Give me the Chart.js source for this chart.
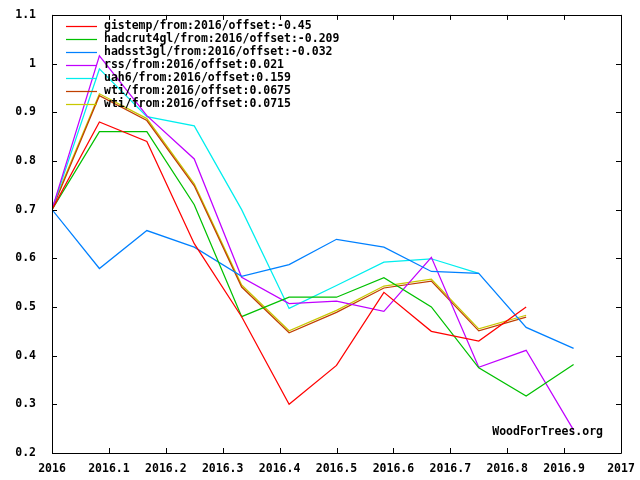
<!DOCTYPE html>
<html>
<head>
<meta charset="utf-8">
<script src="https://cdn.jsdelivr.net/npm/chart.js@4.4.1/dist/chart.umd.min.js"></script>
<style>
  body { margin: 0; background: #fff; }
  canvas { display: block; }
</style>
</head>
<body>
<canvas id="wft" width="640" height="480"></canvas>
<script>
// month positions (year fraction)
const months = [2016, 2016.0833, 2016.1667, 2016.25, 2016.3333, 2016.4167,
                2016.5, 2016.5833, 2016.6667, 2016.75, 2016.8333, 2016.9167];

const gistemp = [0.70, 0.88, 0.84, 0.63, 0.48, 0.30, 0.38, 0.53, 0.45, 0.43, 0.50];
const hadcrut4gl = [0.70, 0.86, 0.86, 0.71, 0.48, 0.52, 0.52, 0.56, 0.50, 0.375, 0.317, 0.382];
const hadsst3gl = [0.70, 0.579, 0.657, 0.623, 0.563, 0.587, 0.639, 0.623, 0.573, 0.569, 0.458, 0.415];
const rss = [0.70, 1.016, 0.893, 0.804, 0.561, 0.507, 0.512, 0.491, 0.602, 0.376, 0.411, 0.247];
const uah6 = [0.70, 0.989, 0.891, 0.872, 0.70, 0.497, 0.544, 0.592, 0.599, 0.569];
const wti1 = [0.70, 0.934, 0.883, 0.749, 0.541, 0.447, 0.489, 0.539, 0.553, 0.451, 0.479];
const wti2 = [0.704, 0.938, 0.887, 0.753, 0.545, 0.451, 0.493, 0.543, 0.557, 0.455, 0.483];

const labels = [
    'gistemp/from:2016/offset:-0.45',
    'hadcrut4gl/from:2016/offset:-0.209',
    'hadsst3gl/from:2016/offset:-0.032',
    'rss/from:2016/offset:0.021',
    'uah6/from:2016/offset:0.159',
    'wti/from:2016/offset:0.0675',
    'wti/from:2016/offset:0.0715'
];
const colors = ['#ff0000', '#00c000', '#0080ff', '#c000ff', '#00eeee', '#c04000', '#c8c800'];
const series = [gistemp, hadcrut4gl, hadsst3gl, rss, uah6, wti1, wti2];

const monoFont = { family: 'DejaVu Sans Mono', size: 11.5, weight: 'bold' };

function fmt(v) {
    return String(Number(v.toFixed(1)));
}

const datasets = series.map((vals, i) => ({
    label: labels[i],
    data: vals.map((v, k) => ({ x: months[k], y: v })),
    borderColor: colors[i],
    borderWidth: 1.25,
    pointRadius: 0,
    fill: false,
    tension: 0
}));

// box, inward ticks, legend and credit, the way gnuplot draws them
const gnuplotFrame = {
    id: 'gnuplotFrame',
    afterDraw(chart) {
        const ctx = chart.ctx;
        const a = chart.chartArea;
        const xs = chart.scales.x, ys = chart.scales.y;
        ctx.save();
        ctx.strokeStyle = '#000';
        ctx.lineWidth = 1;
        ctx.beginPath();
        ctx.rect(Math.round(a.left) + 0.5, Math.round(a.top) + 0.5,
                 Math.round(a.right - a.left), Math.round(a.bottom - a.top));
        xs.ticks.forEach(t => {
            const px = Math.round(xs.getPixelForValue(t.value)) + 0.5;
            ctx.moveTo(px, a.bottom); ctx.lineTo(px, a.bottom - 5);
            ctx.moveTo(px, a.top); ctx.lineTo(px, a.top + 5);
        });
        ys.ticks.forEach(t => {
            const py = Math.round(ys.getPixelForValue(t.value)) + 0.5;
            ctx.moveTo(a.left, py); ctx.lineTo(a.left + 5, py);
            ctx.moveTo(a.right, py); ctx.lineTo(a.right - 5, py);
        });
        ctx.stroke();

        ctx.font = 'bold 11.5px "DejaVu Sans Mono"';
        ctx.textBaseline = 'middle';
        ctx.textAlign = 'left';
        chart.data.datasets.forEach((ds, i) => {
            const y = Math.round(a.top + 11 + i * 13) + 0.5;
            ctx.strokeStyle = ds.borderColor;
            ctx.lineWidth = 1.25;
            ctx.beginPath();
            ctx.moveTo(a.left + 14, y);
            ctx.lineTo(a.left + 45, y);
            ctx.stroke();
            ctx.fillStyle = '#000';
            ctx.fillText(ds.label, a.left + 52, y);
        });

        ctx.textAlign = 'right';
        ctx.fillText('WoodForTrees.org', a.right - 18, a.bottom - 21);
        ctx.restore();
    }
};

new Chart(document.getElementById('wft'), {
    type: 'line',
    data: { datasets: datasets },
    options: {
        responsive: false,
        animation: false,
        layout: { padding: { top: 14, right: 19, left: 0, bottom: 0 } },
        scales: {
            x: {
                type: 'linear',
                min: 2016,
                max: 2017,
                grid: { display: false },
                border: { display: false },
                ticks: {
                    stepSize: 0.1,
                    color: '#000',
                    font: monoFont,
                    padding: 1,
                    maxRotation: 0,
                    autoSkip: false,
                    callback: v => fmt(v)
                },
                afterFit: s => { s.height = 27; }
            },
            y: {
                min: 0.2,
                max: 1.1,
                grid: { display: false },
                border: { display: false },
                ticks: {
                    stepSize: 0.1,
                    color: '#000',
                    font: monoFont,
                    padding: 8,
                    callback: v => fmt(v)
                },
                afterFit: s => { s.width = 52; }
            }
        },
        plugins: {
            legend: { display: false },
            tooltip: { enabled: false }
        }
    },
    plugins: [gnuplotFrame]
});
</script>
</body>
</html>
